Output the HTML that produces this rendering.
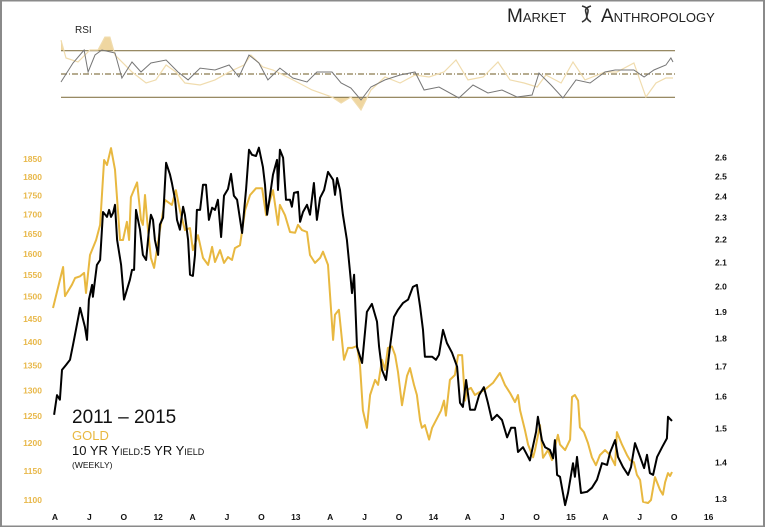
<!DOCTYPE html>
<html><head><meta charset="utf-8"><style>
html,body{margin:0;padding:0;background:#fff}
svg{display:block}
text{font-family:"Liberation Sans",sans-serif}
</style></head><body>
<svg id="chart" width="765" height="527" viewBox="0 0 765 527" xmlns="http://www.w3.org/2000/svg">
<rect x="1" y="0.5" width="763" height="526" fill="#fff" stroke="#8a8a8a" stroke-width="2"/>
<g>
<text x="507" y="22" font-size="19" style="font-variant:small-caps" fill="#222">Market</text>
<text x="601" y="22" font-size="19" style="font-variant:small-caps" fill="#222">Anthropology</text>
<path d="M582 6 C596 10,580 16,591 22 M591 6 C578 10,594 16,582 22" stroke="#333" stroke-width="1.6" fill="none"/>
</g>
<text x="75" y="33" font-size="10" fill="#222">RSI</text>
<g id="rsi"></g>
<g id="main"></g>
<g>
<text x="72" y="423" font-size="19" fill="#111">2011 – 2015</text>
<text x="72" y="440" font-size="13" fill="#e8b840">GOLD</text>
<text x="72" y="455" font-size="13" fill="#111" style="font-variant:small-caps">10 YR Yield:5 YR Yield</text>
<text x="72" y="468" font-size="8.5" fill="#111">(WEEKLY)</text>
</g>
</svg>
<script>
const goldWeeks=[0,3.8,4.5,7.1,8.3,10.2,11.7,12.4,13.9,16.2,17.7,19.2,20.3,21.8,23.3,24.4,25.2,26.3,27.8,28.6,29.3,31.6,33.1,33.8,34.6,35.7,36.8,38.0,40.2,42.1,44.7,46.2,47.7,49.6,51.5,52.6,54.5,56.4,58.3,59.8,60.9,62.8,64.3,65.8,67.3,68.4,70.3,72.2,74.1,76.3,78.6,80.1,81.6,82.7,84.6,85.3,87.2,89.1,91.0,92.1,93.6,95.5,96.6,98.5,100.4,101.5,103.4,105.3,106.0,107.5,109.4,110.9,112.4,114.3,115.4,116.5,118.0,119.2,121.1,122.2,123.7,124.8,125.9,127.4,128.6,129.7,131.2,133.1,134.2,135.7,136.8,138.0,138.7,139.8,141.4,142.5,144.4,145.9,147.0,147.7,149.2,151.1,152.3,153.8,154.9,155.6,157.1,158.6,160.5,162.0,165.4,168.0,169.9,171.8,173.7,174.8,175.6,177.4,178.6,180.5,181.2,183.1,184.2,186.1,187.6,189.8,190.6,192.5,194.4,195.1,196.2,197.4,198.1,199.6,201.1,202.6,204.1,205.6,207.5,209.4,211.3,212.0,213.9,215.8,216.9,218.4,219.5,220.7,221.8,223.7,224.8,226.3,228.2,229.3,230.1,231.2,232.0,232.7];
const goldPrice=[1474,1569,1501,1527,1543,1547,1555,1508,1598,1635,1673,1847,1833,1881,1820,1711,1635,1635,1681,1635,1745,1785,1686,1673,1751,1660,1591,1567,1660,1738,1725,1764,1711,1660,1665,1610,1647,1591,1574,1618,1581,1610,1579,1593,1586,1615,1622,1711,1751,1769,1769,1698,1738,1764,1673,1725,1698,1655,1653,1673,1660,1655,1598,1579,1591,1606,1574,1404,1459,1470,1362,1387,1387,1391,1351,1261,1228,1291,1321,1311,1362,1341,1387,1390,1372,1337,1271,1329,1345,1311,1291,1242,1228,1233,1206,1228,1246,1261,1280,1251,1321,1331,1372,1372,1280,1300,1305,1291,1297,1300,1315,1335,1311,1295,1277,1291,1261,1224,1197,1174,1187,1233,1173,1187,1169,1215,1197,1187,1206,1287,1291,1280,1229,1220,1200,1174,1160,1178,1187,1178,1160,1220,1197,1178,1169,1165,1143,1134,1097,1095,1100,1139,1117,1109,1130,1146,1141,1148];
const ratioWeeks=[0.4,1.5,2.6,3.4,4.9,6.4,7.5,8.6,10.2,12.0,12.8,13.5,14.7,15.0,16.5,17.7,18.8,20.3,21.1,21.8,22.6,23.3,24.1,25.6,26.7,28.9,29.7,30.5,31.2,32.7,33.8,35.0,36.1,36.8,37.6,38.3,39.5,40.2,41.4,42.5,44.0,44.7,45.9,46.6,47.7,48.9,49.6,50.8,51.5,52.6,53.4,54.1,55.3,56.4,57.5,58.6,59.8,60.9,62.0,63.2,64.3,65.8,66.9,68.0,69.2,71.1,72.6,73.7,74.8,76.3,77.4,78.9,79.7,80.5,81.6,82.7,84.2,84.6,85.3,86.5,87.6,89.1,89.8,90.6,92.1,92.9,94.0,95.5,96.6,98.1,99.2,100.4,101.9,103.4,105.3,106.0,106.8,107.9,109.0,110.5,111.7,112.4,113.2,114.3,116.2,118.0,119.9,121.8,122.6,123.7,125.2,126.7,128.2,129.7,131.6,133.5,135.3,136.8,138.0,139.1,139.8,142.5,144.0,145.1,146.6,148.1,150.0,151.9,153.0,154.1,155.3,156.8,158.6,160.2,162.0,163.5,165.0,166.9,168.8,170.7,172.2,173.7,174.8,176.7,178.2,179.3,181.6,182.3,183.8,185.0,186.8,188.0,188.7,189.5,190.6,192.5,193.6,195.5,196.2,197.0,198.5,200.8,202.6,204.5,206.4,208.3,209.4,211.3,212.4,214.3,216.2,217.3,218.8,220.7,222.2,223.3,224.4,225.6,227.1,229.0,230.8,231.2,232.7];
const ratioValues=[1.542,1.605,1.590,1.689,1.706,1.724,1.777,1.832,1.916,1.844,1.795,1.948,2.007,1.959,2.090,2.111,2.327,2.304,2.337,2.304,2.323,2.361,2.199,2.090,1.948,2.028,2.069,2.069,2.337,2.245,2.133,2.111,2.245,2.314,2.290,2.199,2.133,2.268,2.300,2.571,2.510,2.468,2.385,2.290,2.245,2.352,2.314,2.199,2.049,2.044,2.133,2.337,2.337,2.459,2.459,2.290,2.347,2.337,2.385,2.212,2.405,2.438,2.514,2.405,2.385,2.230,2.438,2.640,2.613,2.607,2.651,2.550,2.459,2.314,2.409,2.510,2.586,2.433,2.640,2.597,2.385,2.385,2.352,2.419,2.424,2.281,2.327,2.361,2.314,2.468,2.290,2.395,2.433,2.524,2.484,2.409,2.493,2.433,2.314,2.199,2.057,1.974,2.049,1.770,1.713,1.900,1.931,1.863,1.770,1.689,1.655,1.770,1.881,1.908,1.935,1.948,1.999,2.007,1.920,1.832,1.735,1.735,1.724,1.742,1.832,1.784,1.749,1.700,1.580,1.567,1.655,1.558,1.558,1.605,1.631,1.580,1.526,1.542,1.526,1.473,1.502,1.502,1.430,1.444,1.422,1.406,1.490,1.536,1.465,1.444,1.436,1.412,1.465,1.365,1.360,1.284,1.316,1.398,1.360,1.416,1.316,1.319,1.330,1.352,1.398,1.393,1.428,1.465,1.416,1.387,1.365,1.387,1.456,1.416,1.384,1.422,1.370,1.365,1.416,1.444,1.470,1.536,1.523];
const rsiRatioWeeks=[3.0,7.5,11.7,13.2,15.8,18.4,23.3,25.9,29.7,33.1,36.8,42.5,47.0,50.8,55.3,60.9,66.2,69.9,73.7,77.4,80.8,85.3,90.2,95.5,99.2,104.9,108.3,112.0,115.8,119.5,124.8,130.5,136.1,139.5,145.1,152.6,157.9,163.5,168.8,174.4,180.1,182.7,187.2,191.7,196.6,201.9,207.5,211.3,218.4,222.2,225.9,230.4,232.3,233.1];
const rsiRatio=[43.1,59.4,70.6,51.7,66.3,70.6,68.0,46.6,60.3,51.7,59.4,62.0,51.7,44.9,55.1,53.4,57.7,47.4,66.3,59.4,44.9,55.1,46.6,43.1,51.7,51.7,42.3,38.0,27.7,38.8,44.9,49.1,51.7,36.3,38.8,29.4,40.6,33.7,36.3,30.3,32.0,50.9,40.6,29.4,44.9,42.3,51.7,53.4,53.4,47.4,53.4,57.7,63.7,60.3];
const rsiGoldWeeks=[3.0,4.9,9.4,13.9,16.9,19.5,21.4,23.3,29.7,35.0,38.7,42.5,46.2,49.6,55.3,60.9,66.2,71.8,74.4,78.9,82.7,90.2,97.4,104.9,108.3,112.0,115.8,119.5,124.8,130.5,136.1,141.4,147.0,151.5,156.0,161.7,167.3,171.8,177.1,182.0,185.3,191.0,195.5,200.0,207.5,212.0,218.4,222.9,226.7,230.4,233.1];
const rsiGold=[79,63.7,60.3,70.6,70.6,81.7,81.7,66.3,51.7,42.3,44.9,57.7,51.7,42.3,40.6,44.9,51.7,57.7,66.3,56.0,53.4,44.9,36.3,30.3,25.1,30.3,19.1,36.3,47.4,42.3,49.1,47.4,51.7,62.0,44.9,47.4,60.3,44.9,42.3,38.8,49.1,42.3,60.3,44.9,51.7,51.7,59.4,30.3,42.3,46.6,46.6];
const goldTicks=[1100,1150,1200,1250,1300,1350,1400,1450,1500,1550,1600,1650,1700,1750,1800,1850];
const ratioTicks=[1.3,1.4,1.5,1.6,1.7,1.8,1.9,2.0,2.1,2.2,2.3,2.4,2.5,2.6];
const monthLabels=["A","J","O","12","A","J","O","13","A","J","O","14","A","J","O","15","A","J","O","16"];
const rsiLevels=[70,50,30];

const NS="http://www.w3.org/2000/svg";
const X=w=>53+w*2.66;
const tickX=i=>55+i*34.4;
const YG=v=>500-656*Math.log(v/1100);
const YR=v=>499-493*Math.log(v/1.3);
const YRSI=v=>74-(v-50)*1.165;
function mk(tag,parent,attrs){const e=document.createElementNS(NS,tag);for(const k in attrs)e.setAttribute(k,attrs[k]);parent.appendChild(e);return e;}
const main=document.getElementById('main'), rsi=document.getElementById('rsi');

goldTicks.forEach(v=>{const t=mk('text',main,{x:42,y:YG(v)+3,'font-size':8.5,'font-weight':'bold','text-anchor':'end',fill:'#e8b84a'});


t.textContent=v;});
ratioTicks.forEach(v=>{const t=mk('text',main,{x:715,y:YR(v)+3,'font-size':8.5,'font-weight':'bold',fill:'#111'});


t.textContent=v.toFixed(1);});
monthLabels.forEach((m,i)=>{const t=mk('text',main,{x:tickX(i),y:520,'font-size':8.5,'font-weight':'bold','text-anchor':'middle',fill:'#111'});


t.textContent=m;});

function pathD(ws,vs,Y){return ws.map((w,i)=>(i?'L':'M')+X(w).toFixed(1)+' '+Y(vs[i]).toFixed(1)).join(' ');}
const gl=mk('path',main,{d:pathD(goldWeeks,goldPrice,YG),fill:'none',stroke:'#e8b840','stroke-width':2,'stroke-linejoin':'round'});


const bl=mk('path',main,{d:pathD(ratioWeeks,ratioValues,YR),fill:'none',stroke:'#000','stroke-width':2,'stroke-linejoin':'round'});



const defs=mk('defs',rsi,{});
const c1=mk('clipPath',defs,{id:'above'});mk('rect',c1,{x:0,y:0,width:765,height:YRSI(70)});
const c2=mk('clipPath',defs,{id:'below'});mk('rect',c2,{x:0,y:YRSI(30),width:765,height:100});
const gd=pathD(rsiGoldWeeks,rsiGold,YRSI);
const x0=X(rsiGoldWeeks[0]),x1=X(rsiGoldWeeks[rsiGoldWeeks.length-1]);
const fa=mk('path',rsi,{d:gd+` L${x1} ${YRSI(70)} L${x0} ${YRSI(70)} Z`,fill:'#efd6a0','clip-path':'url(#above)'});


const fb=mk('path',rsi,{d:gd+` L${x1} ${YRSI(30)} L${x0} ${YRSI(30)} Z`,fill:'#efd6a0','clip-path':'url(#below)'});


rsiLevels.forEach(l=>{const ln=mk('line',rsi,{x1:61,x2:675,y1:YRSI(l),y2:YRSI(l),stroke:'#8a7a4e','stroke-width':1.2});
if(l===50)ln.setAttribute('stroke-dasharray','6 2 1 2');

});
const rg=mk('path',rsi,{d:gd,fill:'none',stroke:'#f0dcae','stroke-width':1.2});


const rr=mk('path',rsi,{d:pathD(rsiRatioWeeks,rsiRatio,YRSI),fill:'none',stroke:'#777','stroke-width':1});


</script>
</body></html>
